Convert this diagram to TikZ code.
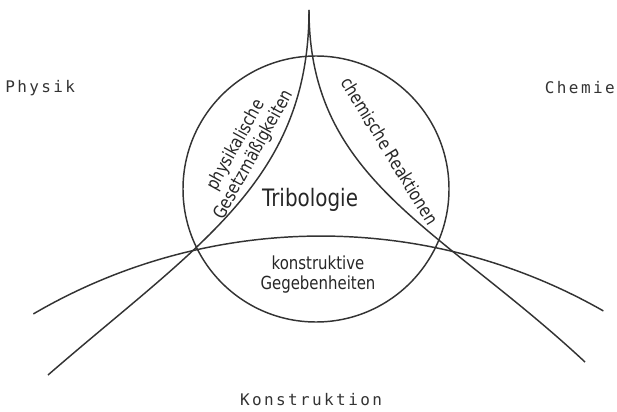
\documentclass[tikz,border=0pt]{standalone}
\usepackage{fontspec}
\newfontfamily\tagfont[FakeStretch=0.83]{DejaVu Sans}
\newfontfamily\typefont[LetterSpace=15]{DejaVu Sans Mono}
\usetikzlibrary{positioning}

\begin{document}
\begin{tikzpicture}[
      x=0.75pt, y=0.75pt,
      curve/.style={draw=black!80, line width=1.1pt},
      field/.style={font=\typefont\fontsize{12}{14}\selectfont, text=black!80, inner sep=0pt},
      tag/.style={font=\tagfont\fontsize{13.5}{15}\selectfont, text=black!85, align=center, inner sep=0pt},
      title/.style={font=\tagfont\fontsize{18}{20}\selectfont, text=black!85, inner sep=0pt}
    ]
    \useasboundingbox (0,0) rectangle (617,411);
    % fields of knowledge
    \node[field, anchor=west] (phy) at (5,323) {Physik};
    \node[field, anchor=east] (che) at (615,323) {Chemie};
    \node[field] (kon) at (311,11) {Konstruktion};
    % boundaries
    \coordinate (apex) at (309,401);
    \coordinate (phyend) at (48,36);
    \coordinate (cheend) at (585,49);
    \coordinate (konl) at (33.4,97.1);
    \draw[curve] (apex) .. controls (309,231) and (199,167) .. (phyend);
    \draw[curve] (apex) .. controls (309,231) and (439,185) .. (cheend);
    \draw[curve] (konl) arc[start angle=120.3, end angle=60.3, radius=570];
    \node[draw=black!80, line width=1.1pt, circle, minimum size=199.5pt, inner sep=0pt] (tri) at (316,222) {};
    % labels
    \node[title] (trib) at (310,211) {Tribologie};
    \node[tag] (kgeg) at (318,136) {konstruktive\\Gegebenheiten};
    \node[tag, rotate=61] (pges) at (245,261) {physikalische\\Gesetzmäßigkeiten};
    \node[tag, rotate=-58.5] (crea) at (390,260) {chemische Reaktionen};
  \end{tikzpicture}
\end{document}
